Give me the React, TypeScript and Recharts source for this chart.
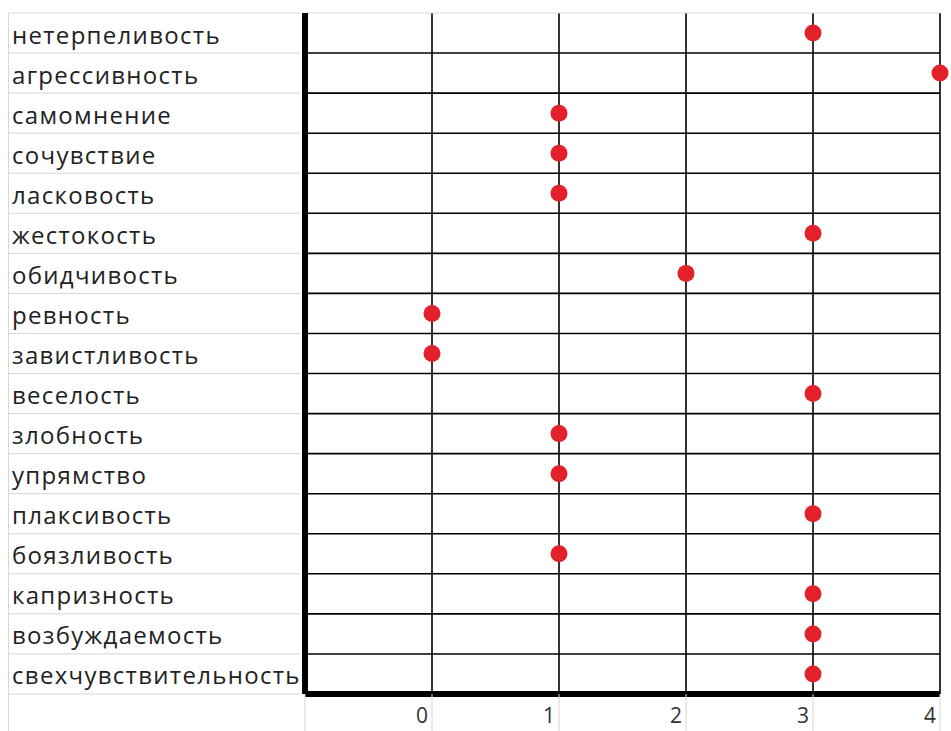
import React from 'react';
import { ScatterChart, Scatter, XAxis, YAxis, CartesianGrid, ReferenceLine } from 'recharts';

// Traits, top to bottom as listed in the sheet
const traits = [
  'нетерпеливость',
  'агрессивность',
  'самомнение',
  'сочувствие',
  'ласковость',
  'жестокость',
  'обидчивость',
  'ревность',
  'завистливость',
  'веселость',
  'злобность',
  'упрямство',
  'плаксивость',
  'боязливость',
  'капризность',
  'возбуждаемость',
  'свехчувствительность',
];

const scores = [3, 4, 1, 1, 1, 3, 2, 0, 0, 3, 1, 1, 3, 1, 3, 3, 3];

const xTicks = [-1, 0, 1, 2, 3, 4];

const points = traits.map((name, i) => ({ name, score: scores[i], row: i + 0.5 }));

// integer ticks = row borders, half ticks = row labels
const rowTicks = Array.from({ length: traits.length * 2 + 1 }, (_, i) => i / 2);
const rowBorders = Array.from({ length: traits.length - 1 }, (_, i) => i + 1);

const FONT = '"Open Sans", sans-serif';
const CELL_LINE = '#d6d6d6';

const TraitTick = (props: any) => {
  const { y, payload } = props;
  const v = payload.value as number;
  if (Number.isInteger(v)) {
    return <line x1={8} x2={300} y1={y} y2={y} stroke={CELL_LINE} strokeWidth={1} />;
  }
  return (
    <text
      x={12}
      y={y + 1}
      dominantBaseline="central"
      textAnchor="start"
      fill="#222"
      fontSize={24}
      letterSpacing={1.3}
      fontFamily={FONT}
    >
      {traits[Math.floor(v)]}
    </text>
  );
};

const ValueTick = (props: any) => {
  const { x, y, payload } = props;
  if (payload.value < 0) return <g />;
  return (
    <text x={x - 4} y={y - 18} dominantBaseline="central" textAnchor="end" fill="#333" fontSize={21} fontFamily={FONT}>
      {payload.value}
    </text>
  );
};

const Dot = (props: any) => {
  const { cx, cy } = props;
  return <circle cx={cx} cy={cy} r={8.5} fill="#e3212b" />;
};

const App: React.FC = () => {
  return (
    <div style={{ position: 'absolute', left: 0, top: 0, width: 951, height: 731, background: '#fff' }}>
      {/* spreadsheet column border on the left */}
      <div style={{ position: 'absolute', left: 8, top: 13, width: 0, height: 718, borderLeft: `1px solid ${CELL_LINE}` }} />
      <ScatterChart width={951} height={731} margin={{ top: 13, right: 11, left: 8, bottom: 0 }}>
        <CartesianGrid horizontal={false} stroke="#000" strokeWidth={1.6} />
        <XAxis
          type="number"
          dataKey="score"
          domain={[-1, 4]}
          ticks={xTicks}
          interval={0}
          height={37}
          tickSize={37}
          tickLine={{ stroke: CELL_LINE }}
          axisLine={{ stroke: '#000', strokeWidth: 6 }}
          tick={<ValueTick />}
        />
        <YAxis
          type="number"
          dataKey="row"
          domain={[0, traits.length]}
          reversed
          ticks={rowTicks}
          interval={0}
          width={297}
          tickLine={false}
          axisLine={{ stroke: '#000', strokeWidth: 6 }}
          tick={<TraitTick />}
        />
        <ReferenceLine y={0} stroke={CELL_LINE} strokeWidth={1} />
        {rowBorders.map((b) => (
          <ReferenceLine key={b} y={b} stroke="#000" strokeWidth={1.6} />
        ))}
        <Scatter data={points} shape={<Dot />} isAnimationActive={false} />
      </ScatterChart>
    </div>
  );
};

export default App;
